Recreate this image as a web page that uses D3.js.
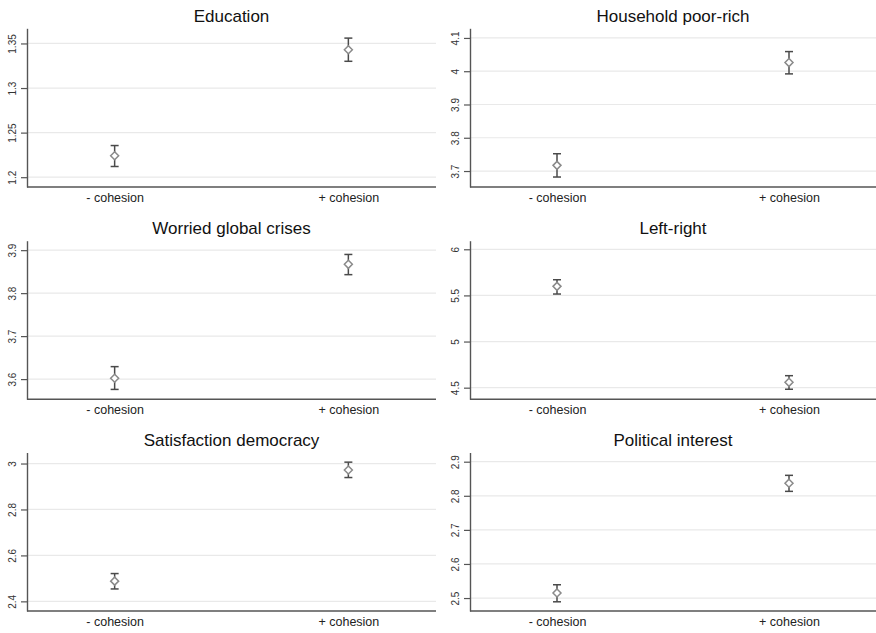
<!DOCTYPE html>
<html>
<head>
<meta charset="utf-8">
<script src="https://cdn.jsdelivr.net/npm/d3@7"></script>
<style>
  html, body { margin: 0; padding: 0; background: #fff; }
  svg { display: block; font-family: "Liberation Sans", Arial, sans-serif; }
</style>
</head>
<body>
<svg id="chart" width="876" height="633"></svg>
<script>
// Group means with 95% confidence intervals, one panel per outcome
const panelTitles = ["Education", "Household poor-rich", "Worried global crises",
                     "Left-right", "Satisfaction democracy", "Political interest"];
const groups = ["- cohesion", "+ cohesion"];
const means = [[1.224, 1.343], [3.717, 4.026], [3.602, 3.867],
               [5.598, 4.558], [2.488, 2.972], [2.515, 2.837]];
const lowerCI = [[1.212, 1.330], [3.682, 3.992], [3.576, 3.843],
                 [5.515, 4.483], [2.454, 2.939], [2.489, 2.813]];
const upperCI = [[1.2355, 1.356], [3.752, 4.059], [3.629, 3.890],
                 [5.670, 4.630], [2.521, 3.006], [2.539, 2.860]];
const yTicks = [[1.2, 1.25, 1.3, 1.35], [3.7, 3.8, 3.9, 4, 4.1], [3.6, 3.7, 3.8, 3.9],
                [4.5, 5, 5.5, 6], [2.4, 2.6, 2.8, 3], [2.5, 2.6, 2.7, 2.8, 2.9]];
const yDomains = [[1.189, 1.367], [3.652, 4.129], [3.553, 3.922],
                  [4.374, 6.093], [2.358, 3.048], [2.462, 2.927]];

// Grid layout: 3 rows x 2 columns of plot regions
const colX = [[27, 436], [470, 876]];
const rowY = [[28.3, 187], [240.7, 399.3], [452.5, 611]];

const svg = d3.select("#chart");

// square diamond (equal width and height); size = area of the bounding square
const squareDiamond = {
  draw(ctx, size) {
    const r = Math.sqrt(size) / 2;
    ctx.moveTo(0, -r);
    ctx.lineTo(r, 0);
    ctx.lineTo(0, r);
    ctx.lineTo(-r, 0);
    ctx.closePath();
  }
};
const diamond = d3.symbol().type(squareDiamond).size(64);

panelTitles.forEach((title, i) => {
  const [x0, x1] = colX[i % 2];
  const [yTop, yBot] = rowY[Math.floor(i / 2)];

  const x = d3.scalePoint().domain(groups).range([x0, x1]).padding(0.375);
  const y = d3.scaleLinear().domain(yDomains[i]).range([yBot, yTop]);

  const g = svg.append("g");

  // horizontal gridlines
  g.append("g").selectAll("line")
    .data(yTicks[i]).join("line")
    .attr("x1", x0).attr("x2", x1)
    .attr("y1", d => y(d)).attr("y2", d => y(d))
    .attr("stroke", "#e9e9e9").attr("stroke-width", 1.2);

  // y axis with rotated tick labels
  const yAxis = g.append("g")
    .attr("transform", `translate(${x0},0)`)
    .call(d3.axisLeft(y).tickValues(yTicks[i]).tickSize(6).tickSizeOuter(0)
      .tickFormat(d => String(d)));
  yAxis.select(".domain").attr("stroke", "#555").attr("stroke-width", 1.4);
  yAxis.selectAll(".tick line").attr("stroke", "#555").attr("stroke-width", 1.2);
  yAxis.selectAll(".tick text")
    .attr("transform", "rotate(-90)")
    .attr("x", 0).attr("y", -11).attr("dy", 0)
    .attr("text-anchor", "middle")
    .attr("fill", "#333")
    .style("font-size", "10px")
    .style("font-family", "'Liberation Sans', Arial, sans-serif");

  // x axis: baseline and category labels
  const xAxis = g.append("g")
    .attr("transform", `translate(0,${yBot})`)
    .call(d3.axisBottom(x).tickSize(0).tickSizeOuter(0).tickPadding(6));
  xAxis.select(".domain").attr("stroke", "#555").attr("stroke-width", 1.4)
    .attr("d", `M${x0},0H${x1}`);
  xAxis.selectAll(".tick text")
    .attr("fill", "#222")
    .style("font-size", "12.5px")
    .style("font-family", "'Liberation Sans', Arial, sans-serif");

  // confidence intervals with caps
  const ci = g.append("g").attr("stroke", "#4a4a4a").attr("stroke-width", 1.5);
  groups.forEach((grp, j) => {
    const cx = x(grp);
    ci.append("line").attr("x1", cx).attr("x2", cx)
      .attr("y1", y(lowerCI[i][j])).attr("y2", y(upperCI[i][j]));
    ci.append("line").attr("x1", cx - 4).attr("x2", cx + 4)
      .attr("y1", y(lowerCI[i][j])).attr("y2", y(lowerCI[i][j]));
    ci.append("line").attr("x1", cx - 4).attr("x2", cx + 4)
      .attr("y1", y(upperCI[i][j])).attr("y2", y(upperCI[i][j]));
  });

  // hollow diamond markers at the means
  g.append("g").selectAll("path")
    .data(groups).join("path")
    .attr("d", diamond)
    .attr("transform", (d, j) => `translate(${x(d)},${y(means[i][j])})`)
    .attr("fill", "#fff")
    .attr("stroke", "#8a8a8a")
    .attr("stroke-width", 1.5);

  // panel title
  g.append("text")
    .attr("x", (x0 + x1) / 2).attr("y", yTop - 6.5)
    .attr("text-anchor", "middle")
    .attr("fill", "#111")
    .style("font-size", "17px")
    .text(title);
});
</script>
</body>
</html>
